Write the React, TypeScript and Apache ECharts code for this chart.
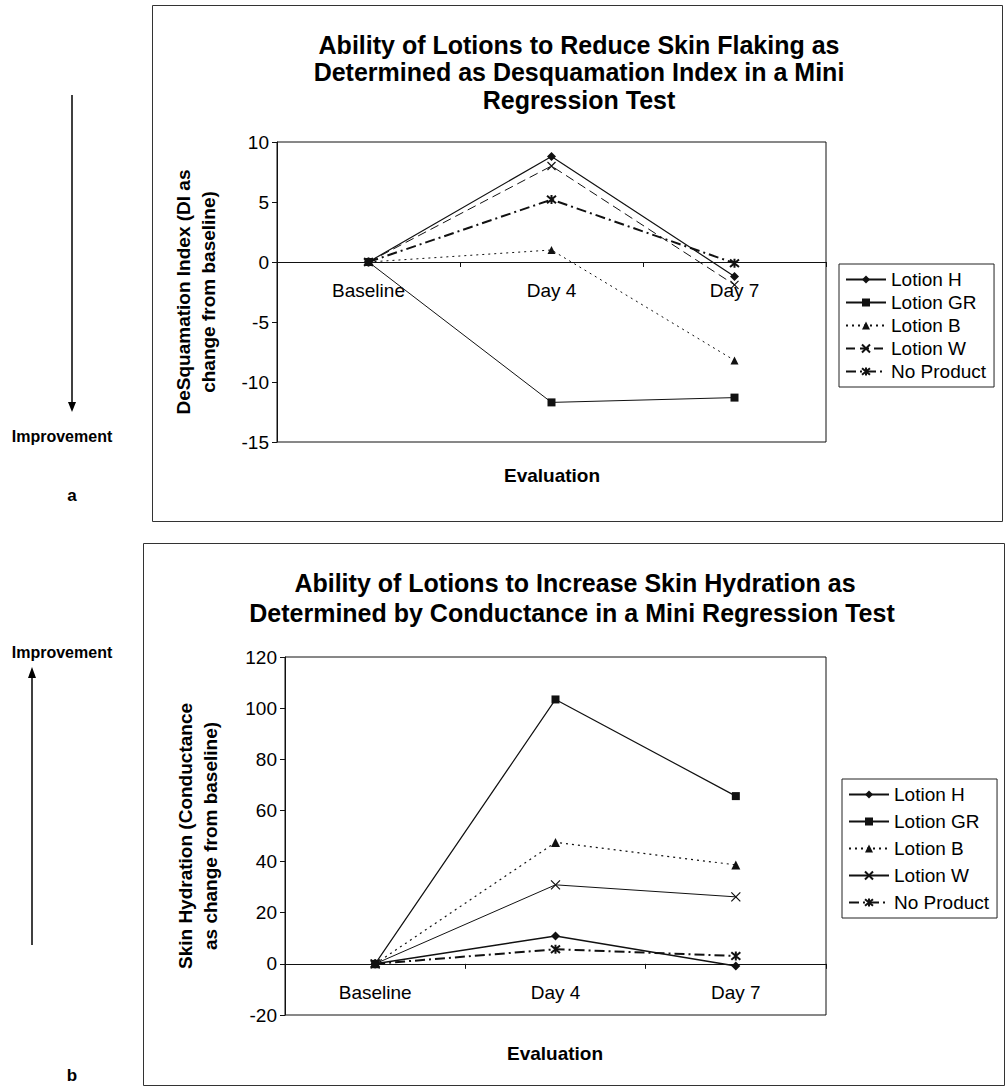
import React, { useEffect, useRef } from 'react';
import * as echarts from 'echarts';

const categories = ['Baseline', 'Day 4', 'Day 7'];
const seriesNames = ['Lotion H', 'Lotion GR', 'Lotion B', 'Lotion W', 'No Product'];

// Chart a: Desquamation Index (change from baseline)
const diH = [0, 8.8, -1.2];
const diGR = [0, -11.7, -11.3];
const diB = [0, 1.0, -8.2];
const diW = [0, 8.0, -1.9];
const diNP = [0, 5.2, -0.1];

// Chart b: Skin hydration (conductance change from baseline)
const shH = [0, 10.9, -0.8];
const shGR = [0, 103.4, 65.6];
const shB = [0, 47.5, 38.7];
const shW = [0, 30.9, 26.2];
const shNP = [0, 5.7, 3.1];

const diAxis = { min: -15, max: 10, interval: 5 };
const shAxis = { min: -20, max: 120, interval: 20 };

const FONT = 'Liberation Sans, Arial, Helvetica, sans-serif';
const INK = '#111';
const X_PATH = 'path://M0,0L10,10M0,10L10,0';
const STAR_PATH = 'path://M0,0L10,10M0,10L10,0M5,-1L5,11';

type Style = { symbol: string; size: number; type: any; width: number; stroked?: boolean };

const topStyles: Style[] = [
  { symbol: 'diamond', size: 9, type: 'solid', width: 1.2 },
  { symbol: 'rect', size: 8, type: 'solid', width: 1 },
  { symbol: 'triangle', size: 8, type: [2, 4], width: 1 },
  { symbol: X_PATH, size: 8, type: [9, 5], width: 1, stroked: true },
  { symbol: STAR_PATH, size: 9, type: [10, 4, 2, 4], width: 2, stroked: true },
];
const bottomStyles: Style[] = [
  { symbol: 'diamond', size: 9, type: 'solid', width: 1.5 },
  { symbol: 'rect', size: 8, type: 'solid', width: 1.2 },
  { symbol: 'triangle', size: 9, type: [2, 4], width: 1.2 },
  { symbol: X_PATH, size: 9, type: 'solid', width: 1, stroked: true },
  { symbol: STAR_PATH, size: 9, type: [10, 4, 2, 4], width: 2, stroked: true },
];

function makeSeries(names: string[], data: number[][], styles: Style[], idx: number) {
  return names.map((name, i) => {
    const s = styles[i];
    return {
      name,
      type: 'line',
      xAxisIndex: idx,
      yAxisIndex: idx,
      data: data[i],
      symbol: s.symbol,
      symbolSize: s.size,
      showSymbol: true,
      z: 10 - i,
      lineStyle: { color: INK, width: s.width, type: s.type },
      itemStyle: s.stroked
        ? { color: INK, borderColor: INK, borderWidth: s.width > 1.5 ? 2 : 1.2 }
        : { color: INK, borderWidth: 0 },
      emphasis: { disabled: true },
    };
  });
}

function txt(x: number, y: number, text: string, size: number, bold = true, align = 'center') {
  return {
    type: 'text',
    x,
    y,
    style: {
      text,
      fill: '#000',
      font: `${bold ? 'bold ' : ''}${size}px ${FONT}`,
      textAlign: align,
      textVerticalAlign: 'middle',
    },
  };
}

const grids = [
  { left: 277, top: 142, width: 549, height: 300 },
  { left: 285, top: 657, width: 541, height: 358 },
];

// distance (px) from the grid bottom up to the value 0 on a linear axis
function zeroOffset(axis: { min: number; max: number }, height: number) {
  return ((0 - axis.min) / (axis.max - axis.min)) * height;
}

export default function App() {
  const ref = useRef<HTMLDivElement>(null);
  useEffect(() => {
    if (!ref.current) return;
    const chart = echarts.init(ref.current, undefined, { renderer: 'svg' });
    const bottomNames = seriesNames.map((n) => n + ' ');

    const axisLabel = { color: '#000', fontFamily: FONT, fontSize: 19 };
    const xAxisCommon = {
      type: 'category',
      data: categories,
      boundaryGap: true,
      position: 'bottom',
      axisLine: { show: true, onZero: false, lineStyle: { color: INK, width: 1 } },
      axisTick: { show: true, inside: false, length: 5, lineStyle: { color: INK } },
      axisLabel: { ...axisLabel, margin: 19 },
      splitLine: { show: false },
    };
    const yAxisCommon = {
      type: 'value',
      axisLine: { show: true, lineStyle: { color: INK, width: 1 } },
      axisTick: { show: true, inside: false, length: 5, lineStyle: { color: INK } },
      axisLabel: { ...axisLabel, margin: 8 },
      splitLine: { show: false },
      nameLocation: 'middle',
      nameRotate: 90,
      nameTextStyle: { color: '#000', fontFamily: FONT, fontSize: 19, fontWeight: 'bold', lineHeight: 25 },
    };
    const legendCommon = {
      orient: 'vertical',
      borderColor: '#222',
      borderWidth: 1,
      backgroundColor: '#fff',
      itemWidth: 40,
      itemHeight: 10,
      selectedMode: false,
      textStyle: { color: '#000', fontFamily: FONT, fontSize: 19 },
      formatter: (n: string) => n.trim(),
    };

    chart.setOption({
      animation: false,
      backgroundColor: '#fff',
      grid: grids.map((g) => ({ ...g, show: true, borderColor: INK, borderWidth: 1, containLabel: false })),
      xAxis: [
        { ...xAxisCommon, gridIndex: 0, offset: -zeroOffset(diAxis, grids[0].height) },
        { ...xAxisCommon, gridIndex: 1, offset: -zeroOffset(shAxis, grids[1].height) },
      ],
      yAxis: [
        {
          ...yAxisCommon,
          gridIndex: 0,
          min: diAxis.min,
          max: diAxis.max,
          interval: diAxis.interval,
          name: 'DeSquamation Index (DI as\nchange from baseline)',
          nameGap: 56,
        },
        {
          ...yAxisCommon,
          gridIndex: 1,
          min: shAxis.min,
          max: shAxis.max,
          interval: shAxis.interval,
          name: 'Skin Hydration (Conductance\nas change from baseline)',
          nameGap: 62,
        },
      ],
      legend: [
        { ...legendCommon, left: 839, top: 264, padding: [6, 8, 6, 6], itemGap: 4, data: seriesNames },
        { ...legendCommon, left: 842, top: 779, padding: [6, 8, 6, 6], itemGap: 8, data: bottomNames },
      ],
      series: [
        ...makeSeries(seriesNames, [diH, diGR, diB, diW, diNP], topStyles, 0),
        ...makeSeries(bottomNames, [shH, shGR, shB, shW, shNP], bottomStyles, 1),
      ],
      graphic: [
        { type: 'rect', shape: { x: 152.5, y: 5.5, width: 850, height: 516 }, style: { fill: 'none', stroke: '#333', lineWidth: 1 }, silent: true },
        { type: 'rect', shape: { x: 143.5, y: 543.5, width: 861, height: 542 }, style: { fill: 'none', stroke: '#333', lineWidth: 1 }, silent: true },
        txt(579, 45, 'Ability of Lotions to Reduce Skin Flaking as', 25),
        txt(579, 72, 'Determined as Desquamation Index in a Mini', 25),
        txt(579, 100, 'Regression Test', 25),
        txt(552, 475, 'Evaluation', 19),
        txt(575, 583, 'Ability of Lotions to Increase Skin Hydration as', 25),
        txt(572, 613, 'Determined by Conductance in a Mini Regression Test', 25),
        txt(555, 1053, 'Evaluation', 19),
        // arrows and side notes
        { type: 'line', shape: { x1: 72, y1: 95, x2: 72, y2: 404 }, style: { stroke: '#000', lineWidth: 1.5 }, silent: true },
        { type: 'polygon', shape: { points: [[68, 402], [76, 402], [72, 412]] }, style: { fill: '#000' }, silent: true },
        txt(62, 436, 'Improvement', 16),
        txt(72, 495, 'a', 17),
        { type: 'line', shape: { x1: 32, y1: 945, x2: 32, y2: 676 }, style: { stroke: '#000', lineWidth: 1.5 }, silent: true },
        { type: 'polygon', shape: { points: [[28, 678], [36, 678], [32, 667]] }, style: { fill: '#000' }, silent: true },
        txt(62, 652, 'Improvement', 16),
        txt(72, 1075, 'b', 17),
      ],
    });
    return () => chart.dispose();
  }, []);
  return (
    <div
      ref={ref}
      style={{ position: 'absolute', left: 0, top: 0, width: 1007, height: 1091, background: '#fff' }}
    />
  );
}
